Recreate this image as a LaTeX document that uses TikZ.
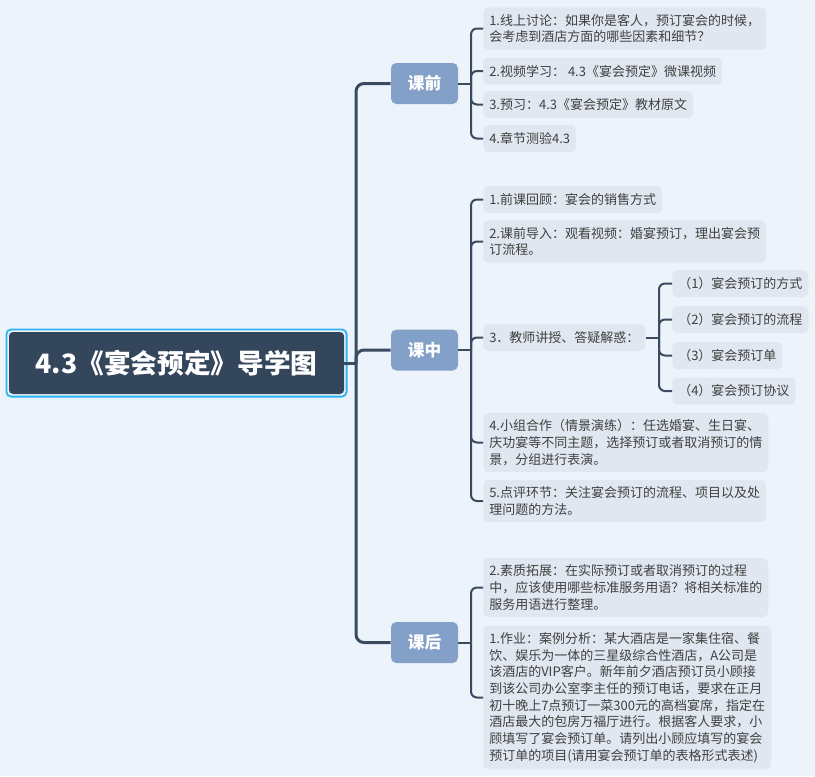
\documentclass[tikz,border=0pt]{standalone}
\usepackage{fontspec}
\setmainfont{Noto Sans CJK SC}
\usetikzlibrary{calc}
\definecolor{bg}{HTML}{EDF3FA}
\definecolor{leaffill}{HTML}{E0E7F0}
\definecolor{leaftext}{HTML}{404040}
\definecolor{linec}{HTML}{3A4A5F}
\definecolor{lvlfill}{HTML}{82A0C8}
\definecolor{rootfill}{HTML}{34465C}
\definecolor{rootborder}{HTML}{2DB5F2}
\begin{document}
\begin{tikzpicture}[x=0.75pt,y=-0.75pt,
  leaf/.style={fill=leaffill, rounded corners=3.75pt, anchor=west, align=left,
    inner xsep=4.5pt, inner ysep=5pt, minimum height=20.25pt,
    font=\fontsize{9.75pt}{12.5pt}\selectfont, text=leaftext},
  lvl/.style={fill=lvlfill, rounded corners=4pt, minimum width=50.25pt,
    minimum height=30.75pt, inner sep=0pt,
    font=\fontsize{12.5pt}{15pt}\selectfont\bfseries, text=white},
  rootbox/.style={fill=rootfill, rounded corners=3pt, minimum width=251.25pt,
    minimum height=46.5pt, inner sep=0pt,
    font=\fontsize{20pt}{24pt}\selectfont\bfseries, text=white},
  conn/.style={draw=linec, line width=1.5pt, rounded corners=4.5pt},
  trunk/.style={draw=linec, line width=2.25pt, rounded corners=6pt}]
\fill[bg] (0,0) rectangle (815,776);
\useasboundingbox (0,0) rectangle (815,776);

% root
\node[rootbox] (root) at (176.5,363) {4.3《宴会预定》导学图};
\draw[rootborder, line width=1.4pt, rounded corners=3.5pt]
  ($(root.north west)+(-2.3,-2.3)$) rectangle ($(root.south east)+(2.3,2.3)$);

% level 1
\node[lvl] (kq) at (424.5,83.5) {课前};
\node[lvl] (kz) at (424.5,350) {课中};
\node[lvl] (kh) at (424.5,642.5) {课后};

% trunk
\coordinate (tj) at (356,363);
\draw[trunk] (root.east) -- (tj);
\draw[trunk] (tj) |- (kq.west);
\draw[trunk] (tj) |- (kz.west);
\draw[trunk] (tj) |- (kh.west);

% 课前 children
\node[leaf] (c1) at (483,28.5) {1.线上讨论：如果你是客人，预订宴会的时候，\\会考虑到酒店方面的哪些因素和细节？};
\node[leaf] (c2) at (483,71) {2.视频学习： 4.3《宴会预定》微课视频};
\node[leaf] (c3) at (483,104.5) {3.预习：4.3《宴会预定》教材原文};
\node[leaf] (c4) at (483,138.5) {4.章节测验4.3};
\coordinate (qj) at (471,83.5);
\draw[conn] (kq.east) -- (qj);
\foreach \c in {c1,c2,c3,c4} \draw[conn] (qj) |- (\c.west);

% 课中 children
\node[leaf] (d1) at (483,199.5) {1.前课回顾：宴会的销售方式};
\node[leaf] (d2) at (483,241.5) {2.课前导入：观看视频：婚宴预订，理出宴会预\\订流程。};
\node[leaf] (d3) at (483,337.5) {3．教师讲授、答疑解惑：};
\node[leaf] (d4) at (483,442.5) {4.小组合作（情景演练）：任选婚宴、生日宴、\\庆功宴等不同主题，选择预订或者取消预订的情\\景，分组进行表演。};
\node[leaf] (d5) at (483,501) {5.点评环节：关注宴会预订的流程、项目以及处\\理问题的方法。};
\coordinate (zj) at (471,350);
\draw[conn] (kz.east) -- (zj);
\foreach \c in {d1,d2,d3,d4,d5} \draw[conn] (zj) |- (\c.west);

% sub children of d3
\node[leaf] (s1) at (672,283.5) {（1）宴会预订的方式};
\node[leaf] (s2) at (672,319.5) {（2）宴会预订的流程};
\node[leaf] (s3) at (672,355.5) {（3）宴会预订单};
\node[leaf] (s4) at (672,391) {（4）宴会预订协议};
\coordinate (sj) at (659,337.5);
\draw[conn] (d3.east) -- (sj);
\foreach \c in {s1,s2,s3,s4} \draw[conn] (sj) |- (\c.west);

% 课后 children
\node[leaf] (e1) at (483,587.5) {2.素质拓展：在实际预订或者取消预订的过程\\中，应该使用哪些标准服务用语？将相关标准的\\服务用语进行整理。};
\node[leaf] (e2) at (483,697.5) {1.作业：案例分析：某大酒店是一家集住宿、餐\\饮、娱乐为一体的三星级综合性酒店，A公司是\\该酒店的VIP客户。新年前夕酒店预订员小顾接\\到该公司办公室李主任的预订电话，要求在正月\\初十晚上7点预订一菜300元的高档宴席，指定在\\酒店最大的包房万福厅进行。根据客人要求，小\\顾填写了宴会预订单。请列出小顾应填写的宴会\\预订单的项目(请用宴会预订单的表格形式表述)};
\coordinate (hj) at (471,642.5);
\draw[conn] (kh.east) -- (hj);
\foreach \c in {e1,e2} \draw[conn] (hj) |- (\c.west);
\end{tikzpicture}
\end{document}
